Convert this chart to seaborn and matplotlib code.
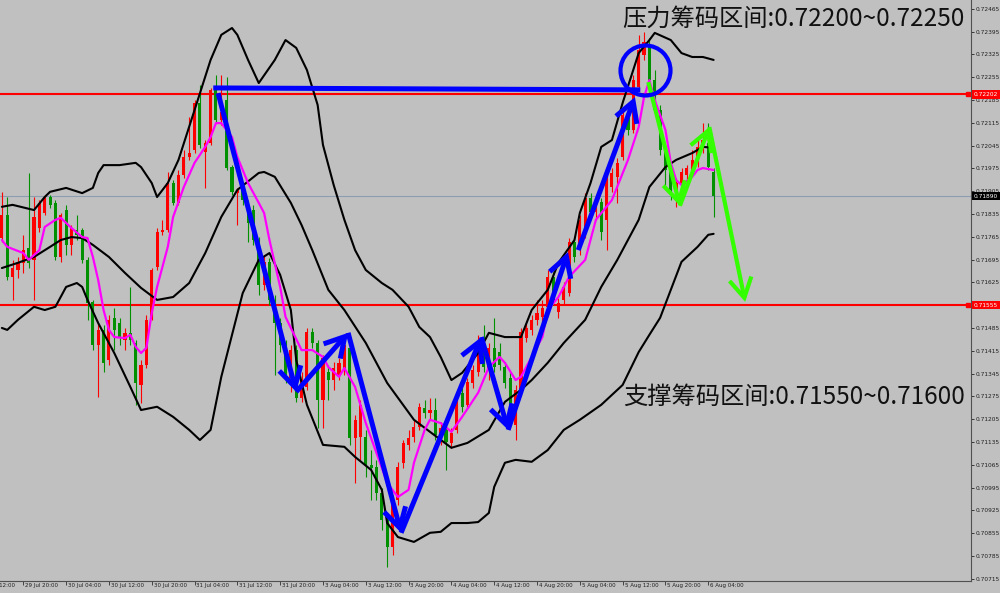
import numpy as np
import pandas as pd
import seaborn as sns
import matplotlib.pyplot as plt
from matplotlib.transforms import blended_transform_factory

# H1 candles, 29 Jul 16:00 .. 6 Aug 05:00 (index 0..133)
OPEN = [0.71761, 0.71832, 0.71642, 0.71663, 0.71685, 0.71731, 0.71694, 0.71792, 0.71838, 0.71887,
        0.71869, 0.71703, 0.71847, 0.71740, 0.71786, 0.71786, 0.71694, 0.71565, 0.71433, 0.71479,
        0.71387, 0.71516, 0.71500, 0.71448, 0.71470, 0.71439, 0.71310, 0.71371, 0.71519, 0.71672,
        0.71780, 0.71786, 0.71930, 0.71869, 0.71955, 0.72010, 0.72031, 0.72176, 0.72025, 0.72053,
        0.72216, 0.72124, 0.72185, 0.71979, 0.71899, 0.71909, 0.71863, 0.71847, 0.71755, 0.71617,
        0.71688, 0.71571, 0.71500, 0.71433, 0.71332, 0.71417, 0.71270, 0.71304, 0.71473, 0.71439,
        0.71264, 0.71350, 0.71325, 0.71341, 0.71356, 0.71424, 0.71147, 0.71150, 0.71150, 0.71064,
        0.71058, 0.70978, 0.70896, 0.70813, 0.70957, 0.71071, 0.71126, 0.71150, 0.71181, 0.71239,
        0.71224, 0.71233, 0.71150, 0.71172, 0.71132, 0.71172, 0.71285, 0.71249, 0.71316, 0.71350,
        0.71424, 0.71356, 0.71424, 0.71411, 0.71365, 0.71332, 0.71187, 0.71295, 0.71454, 0.71479,
        0.71510, 0.71519, 0.71550, 0.71642, 0.71534, 0.71571, 0.71592, 0.71749, 0.71724, 0.71777,
        0.71884, 0.71841, 0.71872, 0.71817, 0.71918, 0.71949, 0.72010, 0.72139, 0.72093, 0.72225,
        0.72323, 0.72354, 0.72246, 0.72154, 0.72031, 0.71970, 0.71909, 0.71924, 0.71955, 0.71970,
        0.71995, 0.72031, 0.72053, 0.71964]
HIGH = [0.71903, 0.71887, 0.71694, 0.71703, 0.71771, 0.71961, 0.71887, 0.71878, 0.71893, 0.71893,
        0.71878, 0.71838, 0.71863, 0.71801, 0.71832, 0.71792, 0.71703, 0.71571, 0.71500, 0.71494,
        0.71525, 0.71546, 0.71516, 0.71485, 0.71611, 0.71448, 0.71387, 0.71525, 0.71669, 0.71792,
        0.71817, 0.71964, 0.71939, 0.71970, 0.72031, 0.72133, 0.72185, 0.72231, 0.72062, 0.72222,
        0.72262, 0.72262, 0.72256, 0.71985, 0.71915, 0.71924, 0.71878, 0.71863, 0.71764, 0.71709,
        0.71700, 0.71586, 0.71516, 0.71448, 0.71433, 0.71433, 0.71350, 0.71485, 0.71485, 0.71448,
        0.71402, 0.71371, 0.71381, 0.71393, 0.71448, 0.71433, 0.71218, 0.71264, 0.71172, 0.71110,
        0.71080, 0.70994, 0.70911, 0.70972, 0.71074, 0.71141, 0.71172, 0.71203, 0.71255, 0.71264,
        0.71270, 0.71270, 0.71196, 0.71187, 0.71178, 0.71279, 0.71301, 0.71332, 0.71371, 0.71464,
        0.71494, 0.71439, 0.71516, 0.71439, 0.71381, 0.71350, 0.71310, 0.71485, 0.71503, 0.71525,
        0.71571, 0.71571, 0.71663, 0.71657, 0.71577, 0.71626, 0.71761, 0.71761, 0.71832, 0.71899,
        0.71899, 0.71884, 0.71884, 0.71976, 0.71976, 0.72007, 0.72154, 0.72160, 0.72262, 0.72385,
        0.72394, 0.72375, 0.72277, 0.72170, 0.72047, 0.71985, 0.71946, 0.71976, 0.71985, 0.72031,
        0.72062, 0.72114, 0.72114, 0.71976]
LOW = [0.71749, 0.71632, 0.71571, 0.71639, 0.71654, 0.71669, 0.71571, 0.71780, 0.71832, 0.71853,
       0.71694, 0.71688, 0.71709, 0.71709, 0.71755, 0.71685, 0.71510, 0.71417, 0.71273, 0.71350,
       0.71371, 0.71417, 0.71433, 0.71417, 0.71433, 0.71249, 0.71255, 0.71362, 0.71510, 0.71663,
       0.71771, 0.71780, 0.71863, 0.71863, 0.71946, 0.72001, 0.72022, 0.72038, 0.71915, 0.72047,
       0.72117, 0.72108, 0.71970, 0.71893, 0.71801, 0.71863, 0.71749, 0.71740, 0.71586, 0.71602,
       0.71556, 0.71341, 0.71411, 0.71316, 0.71289, 0.71258, 0.71258, 0.71295, 0.71424, 0.71178,
       0.71178, 0.71264, 0.71295, 0.71325, 0.71341, 0.71126, 0.71009, 0.71080, 0.71028, 0.70957,
       0.70957, 0.70865, 0.70751, 0.70788, 0.70942, 0.71055, 0.71110, 0.71135, 0.71172, 0.71209,
       0.71203, 0.71141, 0.71126, 0.71049, 0.71117, 0.71163, 0.71227, 0.71239, 0.71301, 0.71338,
       0.71350, 0.71325, 0.71350, 0.71356, 0.71301, 0.71209, 0.71141, 0.71279, 0.71442, 0.71464,
       0.71494, 0.71503, 0.71540, 0.71556, 0.71516, 0.71556, 0.71583, 0.71688, 0.71709, 0.71761,
       0.71823, 0.71817, 0.71755, 0.71724, 0.71903, 0.71869, 0.72001, 0.72078, 0.72084, 0.72216,
       0.72308, 0.72231, 0.72145, 0.72016, 0.71924, 0.71878, 0.71857, 0.71909, 0.71939, 0.71955,
       0.71979, 0.72022, 0.71970, 0.71826]
CLOSE = [0.71832, 0.71642, 0.71669, 0.71685, 0.71724, 0.71685, 0.71826, 0.71869, 0.71887, 0.71863,
         0.71703, 0.71832, 0.71740, 0.71792, 0.71771, 0.71694, 0.71562, 0.71433, 0.71479, 0.71378,
         0.71510, 0.71479, 0.71457, 0.71470, 0.71448, 0.71316, 0.71371, 0.71510, 0.71663, 0.71780,
         0.71786, 0.71930, 0.71869, 0.71955, 0.72010, 0.72022, 0.72176, 0.72047, 0.72053, 0.72216,
         0.72124, 0.72148, 0.71976, 0.71903, 0.71909, 0.71878, 0.71807, 0.71755, 0.71617, 0.71688,
         0.71571, 0.71500, 0.71433, 0.71332, 0.71417, 0.71270, 0.71325, 0.71473, 0.71439, 0.71264,
         0.71393, 0.71325, 0.71362, 0.71378, 0.71433, 0.71147, 0.71203, 0.71249, 0.71064, 0.71055,
         0.70978, 0.70896, 0.70813, 0.70957, 0.71058, 0.71132, 0.71147, 0.71181, 0.71243, 0.71224,
         0.71233, 0.71157, 0.71178, 0.71135, 0.71163, 0.71264, 0.71243, 0.71319, 0.71356, 0.71433,
         0.71365, 0.71424, 0.71365, 0.71371, 0.71316, 0.71224, 0.71295, 0.71473, 0.71485, 0.71510,
         0.71531, 0.71546, 0.71642, 0.71571, 0.71562, 0.71611, 0.71749, 0.71703, 0.71817, 0.71884,
         0.71841, 0.71872, 0.71780, 0.71961, 0.71961, 0.71992, 0.72139, 0.72093, 0.72246, 0.72338,
         0.72363, 0.72246, 0.72154, 0.72031, 0.71970, 0.71909, 0.71930, 0.71964, 0.71976, 0.72001,
         0.72041, 0.72062, 0.71979, 0.71890]

# Bollinger bands and moving average, read at candle indices
BB_UP_IDX = [0, 2, 6, 8, 9, 12, 15, 17, 18, 19, 22, 25, 26, 28, 29, 31, 33, 36, 39, 41,
             43, 44, 46, 48, 51, 53, 55, 57, 59, 60, 62, 64, 66, 68, 71, 73, 76, 78, 80, 82,
             84, 86, 89, 91, 94, 97, 99, 102, 104, 107, 108, 110, 112, 114, 116, 119, 121, 122,
             125, 127, 129, 131, 133]
BB_UP = [0.71857, 0.71863, 0.71847, 0.71887, 0.71903, 0.71915, 0.71899, 0.71915, 0.71961, 0.71985,
         0.71985, 0.71992, 0.71979, 0.71930, 0.71887, 0.71930, 0.72001, 0.72154, 0.72308, 0.72385,
         0.72406, 0.72385, 0.72308, 0.72237, 0.72308, 0.72369, 0.72345, 0.72277, 0.72170, 0.72047,
         0.71924, 0.71817, 0.71724, 0.71663, 0.71623, 0.71602, 0.71550, 0.71488, 0.71457, 0.71396,
         0.71325, 0.71347, 0.71408, 0.71470, 0.71457, 0.71457, 0.71540, 0.71602, 0.71685, 0.71755,
         0.71838, 0.71930, 0.72041, 0.72062, 0.72176, 0.72329, 0.72369, 0.72391, 0.72369, 0.72329,
         0.72317, 0.72317, 0.72308]
BB_MID_IDX = [0, 3, 6, 9, 11, 13, 15, 17, 20, 23, 26, 29, 32, 35, 38, 41, 44, 48, 49, 51,
              54, 56, 58, 61, 64, 68, 72, 77, 80, 84, 87, 91, 94, 97, 99, 102, 105, 109, 112,
              115, 119, 121, 124, 126, 129, 131, 133]
BB_MID = [0.71669, 0.71685, 0.71703, 0.71734, 0.71755, 0.71764, 0.71761, 0.71740, 0.71703, 0.71654,
          0.71608, 0.71571, 0.71580, 0.71623, 0.71715, 0.71826, 0.71909, 0.71961, 0.71964, 0.71949,
          0.71869, 0.71801, 0.71724, 0.71602, 0.71540, 0.71439, 0.71316, 0.71203, 0.71166, 0.71117,
          0.71132, 0.71172, 0.71258, 0.71295, 0.71325, 0.71378, 0.71439, 0.71510, 0.71611, 0.71694,
          0.71817, 0.71918, 0.71979, 0.72001, 0.72022, 0.72041, 0.72038]
BB_LOW_IDX = [0, 1, 3, 6, 8, 10, 12, 14, 15, 16, 18, 21, 24, 26, 29, 32, 35, 37, 39, 41,
              45, 48, 50, 52, 54, 55, 57, 60, 64, 66, 69, 71, 72, 74, 77, 80, 82, 84, 87, 89,
              91, 92, 94, 96, 99, 102, 105, 108, 112, 116, 119, 121, 123, 125, 127, 130, 132, 133]
BB_LOW = [0.71485, 0.71479, 0.71510, 0.71550, 0.71540, 0.71550, 0.71611, 0.71623, 0.71611, 0.71571,
          0.71500, 0.71408, 0.71304, 0.71233, 0.71243, 0.71212, 0.71172, 0.71141, 0.71172, 0.71335,
          0.71592, 0.71694, 0.71715, 0.71648, 0.71540, 0.71387, 0.71249, 0.71126, 0.71120, 0.71089,
          0.71049, 0.70988, 0.70886, 0.70843, 0.70828, 0.70856, 0.70859, 0.70886, 0.70886, 0.70889,
          0.70917, 0.70997, 0.71071, 0.71080, 0.71074, 0.71110, 0.71172, 0.71203, 0.71249, 0.71310,
          0.71411, 0.71464, 0.71516, 0.71602, 0.71688, 0.71734, 0.71771, 0.71774]
MA_IDX = [0, 1, 4, 5, 7, 8, 10, 11, 13, 15, 16, 17, 18, 19, 20, 21, 23, 24, 25, 26,
          27, 28, 29, 31, 32, 34, 36, 38, 39, 40, 41, 43, 44, 46, 48, 49, 50, 52, 53, 56,
          58, 60, 61, 63, 64, 66, 68, 70, 72, 74, 76, 77, 79, 80, 82, 84, 86, 89, 91, 93,
          94, 96, 97, 99, 101, 102, 104, 106, 109, 111, 114, 117, 119, 120, 121, 122, 124, 125,
          126, 127, 129, 130, 131, 133]
MA = [0.71755, 0.71734, 0.71715, 0.71694, 0.71724, 0.71795, 0.71817, 0.71823, 0.71792, 0.71764,
      0.71761, 0.71703, 0.71632, 0.71540, 0.71479, 0.71457, 0.71454, 0.71464, 0.71427, 0.71408,
      0.71424, 0.71531, 0.71611, 0.71734, 0.71826, 0.71918, 0.71992, 0.72041, 0.72071, 0.72114,
      0.72114, 0.72071, 0.72010, 0.71930, 0.71869, 0.71838, 0.71755, 0.71611, 0.71519, 0.71417,
      0.71417, 0.71396, 0.71365, 0.71335, 0.71362, 0.71304, 0.71193, 0.71101, 0.71009, 0.70966,
      0.70988, 0.71071, 0.71172, 0.71203, 0.71193, 0.71166, 0.71212, 0.71286, 0.71365, 0.71396,
      0.71378, 0.71325, 0.71335, 0.71396, 0.71457, 0.71540, 0.71580, 0.71642, 0.71694, 0.71817,
      0.71878, 0.72001, 0.72102, 0.72194, 0.72246, 0.72185, 0.72093, 0.71992, 0.71939, 0.71924,
      0.71949, 0.71970, 0.71976, 0.71970]

TIME_TICKS = [-4, 4, 12, 20, 28, 36, 44, 52, 60, 68, 76, 84, 92, 100, 108, 116, 124, 132]
TIME_LABELS = ['29 Jul 12:00', '29 Jul 20:00', '30 Jul 04:00', '30 Jul 12:00', '30 Jul 20:00',
               '31 Jul 04:00', '31 Jul 12:00', '31 Jul 20:00', '3 Aug 04:00', '3 Aug 12:00',
               '3 Aug 20:00', '4 Aug 04:00', '4 Aug 12:00', '4 Aug 20:00', '5 Aug 04:00',
               '5 Aug 12:00', '5 Aug 20:00', '6 Aug 04:00']
PRICE_TICKS = [0.72465, 0.72395, 0.72325, 0.72255, 0.72185, 0.72115, 0.72045, 0.71975, 0.71905,
               0.71835, 0.71765, 0.71695, 0.71625, 0.71555, 0.71485, 0.71415, 0.71345, 0.71275,
               0.71205, 0.71135, 0.71065, 0.70995, 0.70925, 0.70855, 0.70785, 0.70715]

RESIST = 0.72202
SUPPORT = 0.71555
BID = 0.71890

# hand-drawn analysis marks as (candle index, price)
TOP_LINE = [(39.5, 0.72222), (119.3, 0.72216)]
BLUE_PATH = [(40.4, 0.72206), (55.0, 0.71289), (64.7, 0.71470), (74.6, 0.70856),
             (89.6, 0.71457), (94.6, 0.71172), (105.8, 0.71718)]
BLUE_LAST = [(107.7, 0.71724), (118.3, 0.72194)]
GREEN_PATH = [(120.8, 0.72240), (126.7, 0.71860), (132.2, 0.72102), (138.9, 0.71565)]
CIRCLE = (120.2, 0.72277)

BG = '#c0c0c0'
RED = '#ff0000'
GREEN = '#009000'
BLUE = '#0000ff'
LIME = '#33ff00'

sns.set_theme(style='white', rc={'axes.facecolor': BG, 'figure.facecolor': BG})
plt.rcParams['font.family'] = ['Noto Sans CJK SC', 'DejaVu Sans']

fig = plt.figure(figsize=(10, 5.93), dpi=100)
ax = fig.add_axes([0, 12 / 593, 0.971, 581 / 593])
ax.set_facecolor(BG)

# support / resistance and bid lines
ax.axhline(RESIST, color=RED, lw=1.5, zorder=1)
ax.axhline(SUPPORT, color=RED, lw=1.5, zorder=1)
ax.axhline(BID, color='#8c9db2', lw=0.8, zorder=1)

# candles
df = pd.DataFrame({'open': OPEN, 'high': HIGH, 'low': LOW, 'close': CLOSE})
df['idx'] = np.arange(len(df))
colors = np.where(df['close'] >= df['open'], RED, GREEN)
ax.vlines(df['idx'], df['low'], df['high'], colors=colors, lw=0.8, zorder=2)
body = (df['close'] - df['open']).abs().clip(lower=0.00002)
ax.bar(df['idx'], body, bottom=df[['open', 'close']].min(axis=1), width=0.58,
       color=colors, linewidth=0, zorder=3)

# indicators
for xs, ys in [(BB_UP_IDX, BB_UP), (BB_MID_IDX, BB_MID), (BB_LOW_IDX, BB_LOW)]:
    sns.lineplot(x=xs, y=ys, ax=ax, color='black', lw=1.5, sort=False, estimator=None, zorder=4)
sns.lineplot(x=MA_IDX, y=MA, ax=ax, color='#ff00ff', lw=1.6, sort=False, estimator=None, zorder=5)


def arrow(p0, p1, color, lw):
    ax.annotate('', xy=p1, xytext=p0, zorder=7,
                arrowprops=dict(arrowstyle='->,head_length=0.7,head_width=0.4', color=color,
                                lw=lw, shrinkA=0, shrinkB=0, mutation_scale=20,
                                joinstyle='miter', capstyle='butt'))


tx, ty = zip(*TOP_LINE)
ax.plot(tx, ty, color=BLUE, lw=3.6, solid_capstyle='butt', zorder=7)
for a, b in zip(BLUE_PATH[:-1], BLUE_PATH[1:]):
    arrow(a, b, BLUE, 3.6)
arrow(BLUE_LAST[0], BLUE_LAST[1], BLUE, 3.6)
for a, b in zip(GREEN_PATH[:-1], GREEN_PATH[1:]):
    arrow(a, b, LIME, 3.0)
ax.plot([CIRCLE[0]], [CIRCLE[1]], marker='o', ms=36, mfc='none', mec=BLUE, mew=3, zorder=7)

# annotations
ax.text(0.9935, 0.967, '压力筹码区间:0.72200~0.72250', transform=ax.transAxes,
        ha='right', va='center', fontsize=17.5, color='#111111', zorder=8)
ax.text(0.9935, 0.3167, '支撑筹码区间:0.71550~0.71600', transform=ax.transAxes,
        ha='right', va='center', fontsize=17.5, color='#111111', zorder=8)

# axes
ax.set_xlim(-0.355, 181.1)
ax.set_ylim(0.70708, 0.72492)
for s in ['left', 'top']:
    ax.spines[s].set_visible(False)
for s in ['right', 'bottom']:
    ax.spines[s].set_color('#505050')
    ax.spines[s].set_linewidth(0.8)

ax.yaxis.tick_right()
ax.set_yticks(PRICE_TICKS)
ax.set_yticklabels([f'{p:.5f}' for p in PRICE_TICKS], family='DejaVu Sans')
ax.tick_params(axis='y', direction='out', length=2, width=0.6, pad=1.5, labelsize=4.2,
               colors='#202020', right=True, left=False)

ax.set_xticks(TIME_TICKS[1:])
ax.set_xticklabels([])
ax.tick_params(axis='x', direction='out', length=3, width=0.6, colors='#303030', bottom=True)
xt = blended_transform_factory(ax.transData, ax.transAxes)
for k, lab in zip(TIME_TICKS, TIME_LABELS):
    ax.text(k + 0.35, -0.004, lab, transform=xt, ha='left', va='top', fontsize=4,
            family='DejaVu Sans', color='#202020', clip_on=False)

# price boxes on the scale
yt = blended_transform_factory(ax.transAxes, ax.transData)
for price, fc in [(RESIST, RED), (SUPPORT, RED), (BID, 'black')]:
    ax.text(1.003, price, f'{price:.5f}', transform=yt, ha='left', va='center', fontsize=4.2,
            family='DejaVu Sans', color='white', clip_on=False, zorder=9,
            bbox=dict(boxstyle='square,pad=0.3', fc=fc, ec='none'))
for price in [RESIST, SUPPORT]:
    ax.plot([0.997], [price], marker='s', ms=2.5, color=RED, transform=yt, clip_on=False, zorder=9)

ax.set_xlabel('')
ax.set_ylabel('')
fig.savefig('out.png', dpi=100, facecolor=BG)
